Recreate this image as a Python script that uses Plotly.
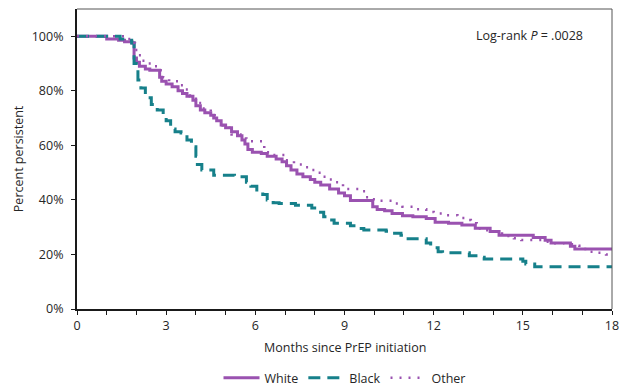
import plotly.graph_objects as go

white_t = [0, 1.0, 1.4, 1.6, 1.85, 1.92, 2.0, 2.1, 2.3, 2.45, 2.78, 2.85, 3.0, 3.2, 3.4, 3.55, 3.7, 3.9, 4.0,
           4.15, 4.3, 4.5, 4.6, 4.7, 4.85, 5.0, 5.2, 5.4, 5.55, 5.65, 5.75, 5.9, 6.2, 6.4, 6.7, 6.9, 7.05, 7.2,
           7.4, 7.6, 7.85, 8.0, 8.2, 8.5, 8.8, 9.0, 9.2, 9.95, 10.1, 10.35, 10.6, 10.95, 11.3, 11.75, 12.05,
           12.5, 12.95, 13.4, 13.9, 14.2, 15.35, 15.75, 15.95, 16.6, 16.75, 18]
white_s = [1.00, 0.99, 0.985, 0.98, 0.975, 0.92, 0.905, 0.89, 0.88, 0.875, 0.85, 0.835, 0.825, 0.815, 0.80,
           0.79, 0.78, 0.765, 0.745, 0.73, 0.72, 0.71, 0.70, 0.69, 0.675, 0.665, 0.65, 0.635, 0.62, 0.605,
           0.585, 0.575, 0.57, 0.56, 0.55, 0.54, 0.525, 0.51, 0.495, 0.485, 0.475, 0.465, 0.455, 0.44, 0.425,
           0.415, 0.398, 0.375, 0.365, 0.36, 0.35, 0.342, 0.338, 0.332, 0.318, 0.314, 0.308, 0.296, 0.284,
           0.27, 0.262, 0.252, 0.242, 0.23, 0.22, 0.22]

black_t = [0, 1.45, 1.65, 1.84, 1.92, 2.05, 2.15, 2.3, 2.5, 2.7, 2.9, 3.0, 3.15, 3.3, 3.5, 3.7, 3.85, 4.0,
           4.05, 4.2, 4.6, 5.3, 5.7, 5.85, 6.05, 6.25, 6.4, 6.6, 6.8, 7.35, 7.9, 8.1, 8.3, 8.45, 8.65, 9.2,
           9.45, 9.65, 10.4, 10.55, 10.9, 11.05, 11.75, 11.9, 12.15, 12.3, 13.2, 13.5, 13.7, 15.0, 15.1,
           15.4, 18]
black_s = [1.00, 0.99, 0.985, 0.975, 0.90, 0.84, 0.81, 0.775, 0.75, 0.73, 0.70, 0.69, 0.66, 0.65, 0.645,
           0.62, 0.595, 0.56, 0.53, 0.51, 0.49, 0.485, 0.465, 0.45, 0.43, 0.42, 0.40, 0.39, 0.387, 0.38,
           0.37, 0.355, 0.338, 0.326, 0.314, 0.305, 0.295, 0.29, 0.285, 0.278, 0.27, 0.258, 0.242, 0.225,
           0.21, 0.206, 0.195, 0.19, 0.183, 0.175, 0.165, 0.155, 0.155]

other_t = [0, 1.6, 1.85, 1.95, 2.05, 2.2, 2.4, 2.6, 2.75, 2.9, 3.1, 3.4, 3.6, 3.8, 4.0, 4.2, 4.5, 4.75,
           4.9, 5.2, 5.5, 5.7, 6.3, 6.6, 7.0, 7.3, 7.6, 7.85, 8.1, 8.25, 8.45, 8.7, 8.95, 9.5, 9.7, 9.95,
           10.2, 10.7, 10.95, 11.3, 11.75, 12.0, 12.3, 12.8, 13.05, 13.25, 13.45, 13.7, 13.95, 14.1, 14.3,
           14.7, 14.95, 15.7, 15.9, 16.4, 16.65, 16.9, 17.2, 17.5, 17.8, 18]
other_s = [1.00, 0.99, 0.975, 0.95, 0.93, 0.91, 0.90, 0.89, 0.875, 0.85, 0.835, 0.82, 0.805, 0.78, 0.755,
           0.735, 0.71, 0.685, 0.665, 0.64, 0.625, 0.615, 0.575, 0.565, 0.545, 0.53, 0.52, 0.51, 0.50,
           0.485, 0.475, 0.465, 0.44, 0.432, 0.41, 0.402, 0.397, 0.387, 0.375, 0.366, 0.356, 0.35, 0.344,
           0.334, 0.326, 0.314, 0.295, 0.289, 0.283, 0.277, 0.268, 0.259, 0.253, 0.247, 0.241, 0.237,
           0.232, 0.22, 0.21, 0.206, 0.20, 0.20]

x_ticks = [0, 3, 6, 9, 12, 15, 18]
y_ticks = [0, 0.2, 0.4, 0.6, 0.8, 1.0]
y_labels = ["0%", "20%", "40%", "60%", "80%", "100%"]

PURPLE = "#9a52b0"
TEAL = "#16808a"
FONT = "Open Sans"
TXT = "#262626"
FS = 12.5

fig = go.Figure()
fig.add_trace(go.Scatter(x=white_t, y=white_s, mode="lines", name="White", line_shape="hv",
                         line=dict(color=PURPLE, width=3)))
fig.add_trace(go.Scatter(x=black_t, y=black_s, mode="lines", name="Black", line_shape="hv",
                         line=dict(color=TEAL, width=3, dash="12px,7px")))
fig.add_trace(go.Scatter(x=other_t, y=other_s, mode="lines", name="Other", line_shape="hv",
                         line=dict(color=PURPLE, width=2.5, dash="2px,7px")))

# page body has an 8px default margin, so the figure is sized/margined to compensate
fig.update_layout(
    width=619, height=380,
    margin=dict(l=69, r=15, t=1, b=79, autoexpand=False),
    paper_bgcolor="white", plot_bgcolor="white",
    font=dict(family=FONT, size=FS, color=TXT),
    showlegend=True,
    legend=dict(orientation="h", x=0.5, xanchor="center", y=-0.23, yanchor="middle",
                font=dict(size=FS, color=TXT), itemwidth=36, tracegroupgap=0),
    xaxis=dict(range=[0, 18], tickvals=x_ticks, ticktext=[str(v) for v in x_ticks],
               showline=True, linecolor="#1a1a1a", linewidth=2, showgrid=False, zeroline=False,
               ticks="outside", ticklen=4, tickcolor="#1a1a1a", tickwidth=1,
               ticklabeloverflow="allow", automargin=False,
               minor=dict(dtick=1, tick0=0, ticks="outside", ticklen=4, tickcolor="#1a1a1a", showgrid=False)),
    yaxis=dict(range=[0, 1.1], tickvals=y_ticks, ticktext=y_labels,
               showline=True, linecolor="#1a1a1a", linewidth=2, showgrid=False, zeroline=False,
               ticks="outside", ticklen=4, tickcolor="#1a1a1a", tickwidth=1, automargin=False,
               ticklabelstandoff=5),
    shapes=[
        dict(type="line", xref="paper", yref="paper", x0=0, x1=1, y0=1, y1=1,
             line=dict(color="#555555", width=1)),
        dict(type="line", xref="paper", yref="paper", x0=1, x1=1, y0=0, y1=1,
             line=dict(color="#555555", width=1)),
    ],
    annotations=[
        dict(text="Log-rank <i>P</i> = .0028", xref="paper", yref="paper", x=0.95, y=0.91,
             xanchor="right", yanchor="middle", showarrow=False, font=dict(size=FS, color=TXT)),
        dict(text="Months since PrEP initiation", xref="paper", yref="paper", x=0.5, y=-0.13,
             xanchor="center", yanchor="middle", showarrow=False, font=dict(size=FS, color=TXT)),
        dict(text="Percent persistent", xref="paper", yref="paper", x=-0.110, y=0.5, textangle=-90,
             xanchor="center", yanchor="middle", showarrow=False, font=dict(size=FS, color=TXT)),
    ],
)

fig.write_html("out.html")
